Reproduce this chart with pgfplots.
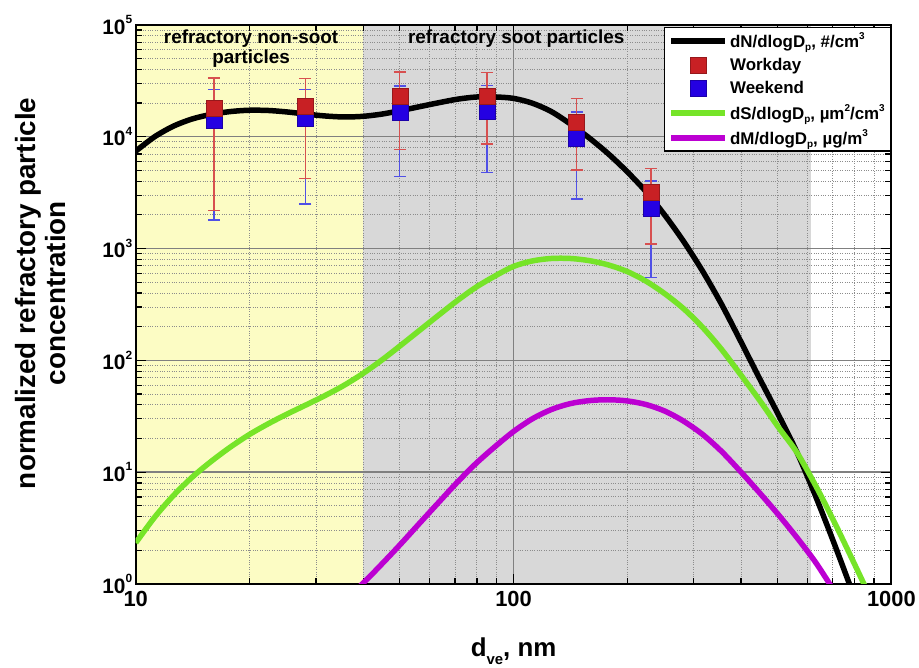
\documentclass[border=0pt]{standalone}
\usepackage{fontspec}
\setmainfont{Liberation Sans}
\usepackage{pgfplots}
\pgfplotsset{compat=1.18}

\definecolor{wkred}{RGB}{200,32,36}
\definecolor{wkblue}{RGB}{36,0,226}
\definecolor{sgreen}{RGB}{118,228,40}
\definecolor{mmag}{RGB}{188,0,210}
\definecolor{bgyellow}{RGB}{252,252,196}
\definecolor{bggray}{RGB}{216,216,216}
\definecolor{errred}{RGB}{215,80,80}
\definecolor{errblue}{RGB}{80,80,230}

\newcommand\spx[1]{\raisebox{0.5em}{\fontsize{12}{12}\selectfont #1}}
\newcommand\lsp[1]{\raisebox{0.45em}{\fontsize{10}{10}\selectfont #1}}
\newcommand\lsb[1]{\raisebox{-0.2em}{\fontsize{10}{10}\selectfont #1}}
\newcommand\xsb[1]{\raisebox{-0.3em}{\fontsize{15}{15}\selectfont #1}}

\begin{document}
\begin{tikzpicture}
\begin{axis}[
    set layers,
    scale only axis,
    width=757bp, height=560bp,
    xmode=log, ymode=log,
    xmin=10, xmax=1000, ymin=1, ymax=1e5,
    xtick={10,100,1000},
    xticklabels={10,100,1000},
    ytick={1,10,100,1000,10000,100000},
    yticklabels={10\spx{0},10\spx{1},10\spx{2},10\spx{3},10\spx{4},10\spx{5}},
    xticklabel style={font=\bfseries\fontsize{22}{22}\selectfont, yshift=-4bp},
    yticklabel style={font=\bfseries\fontsize{21}{21}\selectfont},
    xlabel={d\xsb{ve}, nm},
    xlabel style={at={(axis description cs:0.5,-0.12)}, anchor=center,
        font=\bfseries\fontsize{26}{26}\selectfont},
    ylabel={normalized refractory particle\\concentration},
    ylabel style={align=center, at={(axis description cs:-0.126,0.52)}, anchor=center,
        font=\bfseries\fontsize{28}{31}\selectfont},
    axis line style={black, line width=2bp},
    tick style={black, line width=1.2bp},
    major tick length=10bp,
    minor tick length=6bp,
    tick align=inside,
    grid=both,
    major grid style={solid, draw=black!50, line width=1.3bp},
    minor grid style={dotted, draw=black!45, line width=0.9bp},
    legend style={at={(1,1)}, anchor=north east, yshift=-2bp,
        draw=black, line width=1.3bp, fill=white,
        font=\bfseries\fontsize{17}{19}\selectfont,
        row sep=5.5bp, inner xsep=4bp, inner ysep=3bp},
    legend cell align=left,
    legend image code/.code={\draw[mark repeat=2,mark phase=2,#1]
        plot coordinates {(0bp,0bp) (27bp,0bp) (54bp,0bp)};},
    clip=true
]

% legend entries
\addlegendimage{black, line width=6bp}
\addlegendentry{dN/dlogD\lsb{p}, \#/cm\lsp{3}}
\addlegendimage{only marks, mark=square*, mark size=8bp,
    mark options={fill=wkred, draw=wkred!75!black, line width=0.6bp}}
\addlegendentry{Workday}
\addlegendimage{only marks, mark=square*, mark size=8bp,
    mark options={fill=wkblue, draw=wkblue!75!black, line width=0.6bp}}
\addlegendentry{Weekend}
\addlegendimage{sgreen, line width=6bp}
\addlegendentry{dS/dlogD\lsb{p}, µm\lsp{2}/cm\lsp{3}}
\addlegendimage{mmag, line width=6bp}
\addlegendentry{dM/dlogD\lsb{p}, µg/m\lsp{3}}

% shaded size ranges
\addplot[fill=bgyellow, draw=none, on layer=axis background, forget plot]
    coordinates {(10,1) (40,1) (40,1e5) (10,1e5)};
\addplot[fill=bggray, draw=none, on layer=axis background, forget plot]
    coordinates {(40,1) (612,1) (612,1e5) (40,1e5)};

% number distribution
\addplot[black, line width=5.5bp, smooth, forget plot] coordinates {
    (10,7430) (11.22,10000) (12.59,12450) (14.13,14450) (15.85,15850)
    (17.78,16790) (19.95,17260) (22.39,17180) (25.12,16670) (28.18,15960)
    (31.62,15350) (35.48,15030) (39.81,15210) (44.67,15920) (50.12,17100)
    (56.23,18540) (63.10,20090) (70.79,21630) (79.43,22650) (89.13,22700)
    (100,22030) (112.2,19950) (125.9,16790) (141.3,13030) (158.5,9770)
    (177.8,7080) (199.5,4900) (223.9,3240) (251.2,1995) (281.8,1160)
    (316.2,631) (354.8,320) (398.1,151) (446.7,70.0) (501.2,33.1)
    (562.3,15.1) (631.0,6.03) (707.9,2.24) (794.3,0.794) (891,0.275)
};

% surface distribution
\addplot[sgreen, line width=5.5bp, smooth, forget plot] coordinates {
    (10,2.33) (11.22,3.95) (12.59,6.19) (14.13,9.06) (15.85,12.5)
    (17.78,16.7) (19.95,21.6) (22.39,27.0) (25.12,33.0) (28.18,39.8)
    (31.62,48.2) (35.48,59.4) (39.81,75.7) (44.67,99.8) (50.12,135)
    (56.23,184) (63.10,251) (70.79,340) (79.43,449) (89.13,566)
    (100,692) (112.2,775) (125.9,815) (141.3,815) (158.5,780)
    (177.8,715) (199.5,625) (223.9,512) (251.2,395) (281.8,290)
    (316.2,198) (354.8,126) (398.1,75.3) (446.7,44.5) (501.2,25.5)
    (562.3,15.0) (631.0,7.53) (707.9,3.52) (794.3,1.57) (891,0.69)
};

% mass distribution
\addplot[mmag, line width=5.5bp, smooth, forget plot] coordinates {
    (35.48,0.70) (39.81,1.0) (44.67,1.49) (50.12,2.25) (56.23,3.45)
    (63.10,5.28) (70.79,8.04) (79.43,11.9) (89.13,16.8) (100,23.1)
    (112.2,30.0) (125.9,36.3) (141.3,41.0) (158.5,43.6) (177.8,44.4)
    (199.5,43.4) (223.9,40.3) (251.2,35.2) (281.8,28.6) (316.2,21.8)
    (354.8,15.4) (398.1,10.2) (446.7,6.6) (501.2,4.2) (562.3,2.6)
    (631.0,1.55) (707.9,0.85)
};

% weekend
\addplot[forget plot, only marks, mark=square*, mark size=8bp,
    mark options={fill=wkblue, draw=wkblue!75!black, line width=0.6bp},
    error bars/.cd, y dir=both, y explicit,
    error bar style={color=errblue, line width=1.3bp},
    error mark options={rotate=90, mark size=6bp, color=errblue, line width=1.3bp}]
    coordinates {
    (16.1,14100) +- (0,12300)
    (28.1,14500) +- (0,12000)
    (50,16400) +- (0,12000)
    (85,16800) +- (0,12000)
    (147,9700) +- (0,6930)
    (231,2280) +- (0,1730)
};

% workday
\addplot[forget plot, only marks, mark=square*, mark size=8bp,
    mark options={fill=wkred, draw=wkred!75!black, line width=0.6bp},
    error bars/.cd, y dir=both, y explicit,
    error bar style={color=errred, line width=1.3bp},
    error mark options={rotate=90, mark size=6bp, color=errred, line width=1.3bp}]
    coordinates {
    (16.1,17900) +- (0,15700)
    (28.1,18700) +- (0,14450)
    (50,22800) +- (0,15150)
    (85,23000) +- (0,14400)
    (147,13500) +- (0,8450)
    (231,3160) +- (0,2060)
};

\node[anchor=north, align=center, font=\bfseries\fontsize{19}{20}\selectfont, inner sep=0pt]
    at (axis cs:20.2,91000) {refractory non-soot\\particles};
\node[anchor=north, align=center, font=\bfseries\fontsize{19}{20}\selectfont, inner sep=0pt]
    at (axis cs:101.6,91000) {refractory soot particles};

\end{axis}
\path ([shift={(-136bp,-84bp)}]current axis.south west)
    rectangle ([shift={(26bp,25bp)}]current axis.north east);
\end{tikzpicture}
\end{document}
